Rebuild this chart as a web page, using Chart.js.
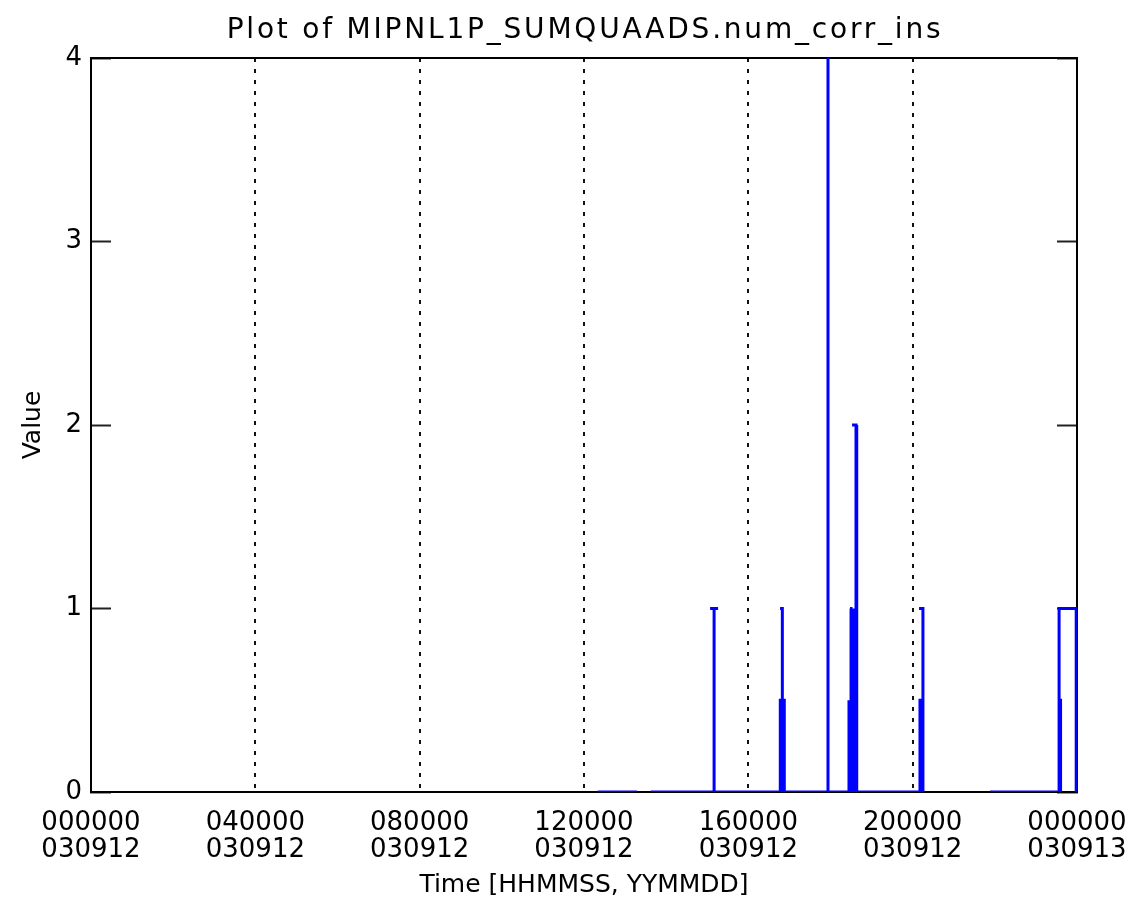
<!DOCTYPE html>
<html>
<head>
<meta charset="utf-8">
<title>MIPNL1P_SUMQUAADS.num_corr_ins</title>
<script src="https://cdn.jsdelivr.net/npm/chart.js@4.4.1/dist/chart.umd.min.js"></script>
<style>
  html, body { margin: 0; padding: 0; background: #fff; }
  canvas { display: block; }
</style>
</head>
<body>
<canvas id="plot" width="1135" height="909"></canvas>
<script>
const FONT = 'DejaVu Sans';
const PLOT_TITLE = 'Plot of MIPNL1P_SUMQUAADS.num_corr_ins';

// x axis: seconds since 030912 000000
const tickTimes = ['000000', '040000', '080000', '120000', '160000', '200000', '000000'];
const tickDates = ['030912', '030912', '030912', '030912', '030912', '030912', '030913'];

// num_corr_ins samples (null = no data)
const sampleSeconds = [
    44400, 47850, 48400,
    49050,
    54600, 54600, 54250, 54950, 54600, 54600,
    60400, 60400, 60750, 60750, 60580, 60580, 60380, 60580, 60580,
    64580, 64580, 64580,
    66420, 66420, 66420,
    66600, 66600, 66510, 66600, 66600,
    66770, 66770, 66770,
    66950, 66950, 66950,
    67035, 67035, 66690, 67035, 67035,
    67120, 67120, 67120,
    72640, 72640, 72900, 72900, 72560, 72900, 72900,
    75000,
    78780, 84830, 84960, 84960, 84830, 84830, 84830, 86330, 86330, 86400
];
const sampleValues = [
    0, 0, null,
    0,
    0, 1, 1, 1, 1, 0,
    0, 0.5, 0.5, 0, 0, 1, 1, 1, 0,
    0, 4, 0,
    0, 0.5, 0,
    0, 1, 1, 1, 0,
    0, 1, 0,
    0, 1, 0,
    0, 2, 2, 2, 0,
    0, 1, 0,
    0, 0.5, 0.5, 1, 1, 1, 0,
    null,
    0, 0, 0, 0.5, 0.5, 0, 1, 1, 0, 0
];

const points = sampleSeconds.map((t, i) => ({ x: t, y: sampleValues[i] }));

// top edge of the plot box
const frameTop = {
    id: 'frameTop',
    beforeDatasetsDraw(chart) {
        const { ctx, chartArea } = chart;
        ctx.save();
        ctx.strokeStyle = '#000';
        ctx.lineWidth = 2;
        ctx.beginPath();
        ctx.moveTo(chartArea.left - 1, chartArea.top);
        ctx.lineTo(chartArea.right + 1, chartArea.top);
        ctx.stroke();
        ctx.restore();
    }
};

// wide-spaced title over the plot box
const plotTitle = {
    id: 'plotTitle',
    afterDraw(chart) {
        const { ctx, chartArea } = chart;
        ctx.save();
        ctx.font = '28px "' + FONT + '"';
        ctx.fillStyle = '#000';
        ctx.letterSpacing = '2.8px';
        ctx.textAlign = 'center';
        ctx.textBaseline = 'middle';
        ctx.fillText(PLOT_TITLE, (chartArea.left + chartArea.right) / 2 + 1, 31);
        ctx.restore();
    }
};

new Chart(document.getElementById('plot'), {
    type: 'line',
    data: {
        datasets: [{
            data: points,
            borderColor: '#0000ff',
            borderWidth: 3,
            pointRadius: 0,
            tension: 0,
            spanGaps: false
        }]
    },
    options: {
        responsive: false,
        animation: false,
        devicePixelRatio: 1,
        layout: { padding: { top: 58, left: 0, right: 0, bottom: 0 }, autoPadding: false },
        plugins: {
            legend: { display: false },
            tooltip: { enabled: false },
            title: { display: false }
        },
        scales: {
            x: {
                type: 'linear',
                min: 0,
                max: 86400,
                afterFit: (scale) => {
                    scale.height = 117;
                    scale.paddingLeft = 0;
                    scale.paddingRight = 0;
                },
                ticks: {
                    stepSize: 14400,
                    autoSkip: false,
                    maxRotation: 0,
                    padding: 17,
                    color: '#000',
                    font: { family: FONT, size: 26, lineHeight: 1.06 },
                    callback: (value, index) => [tickTimes[index], tickDates[index]]
                },
                grid: {
                    drawTicks: false,
                    color: (c) => (c.tick && (c.tick.value === 0 || c.tick.value === 86400)) ? 'rgba(0,0,0,0)' : '#111',
                    lineWidth: 2
                },
                border: { display: true, color: '#000', width: 2, dash: [4, 7] },
                title: {
                    display: true,
                    text: 'Time [HHMMSS, YYMMDD]',
                    color: '#000',
                    font: { family: FONT, size: 25, lineHeight: 1.2 },
                    padding: { top: 0, bottom: 9 }
                }
            },
            y: {
                position: 'left',
                min: 0,
                max: 4,
                afterFit: (scale) => {
                    scale.width = 91;
                    scale.paddingTop = 0;
                    scale.paddingBottom = 0;
                },
                ticks: {
                    stepSize: 1,
                    padding: 29,
                    color: '#000',
                    font: { family: FONT, size: 26 }
                },
                grid: {
                    drawOnChartArea: false,
                    drawTicks: true,
                    tickLength: -20,
                    tickWidth: 2,
                    tickColor: '#222'
                },
                border: { display: true, color: '#000', width: 2 },
                title: {
                    display: true,
                    text: 'Value',
                    color: '#000',
                    font: { family: FONT, size: 25, lineHeight: 1.2 },
                    padding: { top: 18, bottom: 0 }
                }
            },
            y2: {
                position: 'right',
                min: 0,
                max: 4,
                afterFit: (scale) => { scale.width = 58; },
                ticks: { stepSize: 1, display: false },
                grid: {
                    drawOnChartArea: false,
                    drawTicks: true,
                    tickLength: -20,
                    tickWidth: 2,
                    tickColor: '#222'
                },
                border: { display: true, color: '#000', width: 2 }
            }
        }
    },
    plugins: [frameTop, plotTitle]
});
</script>
</body>
</html>
